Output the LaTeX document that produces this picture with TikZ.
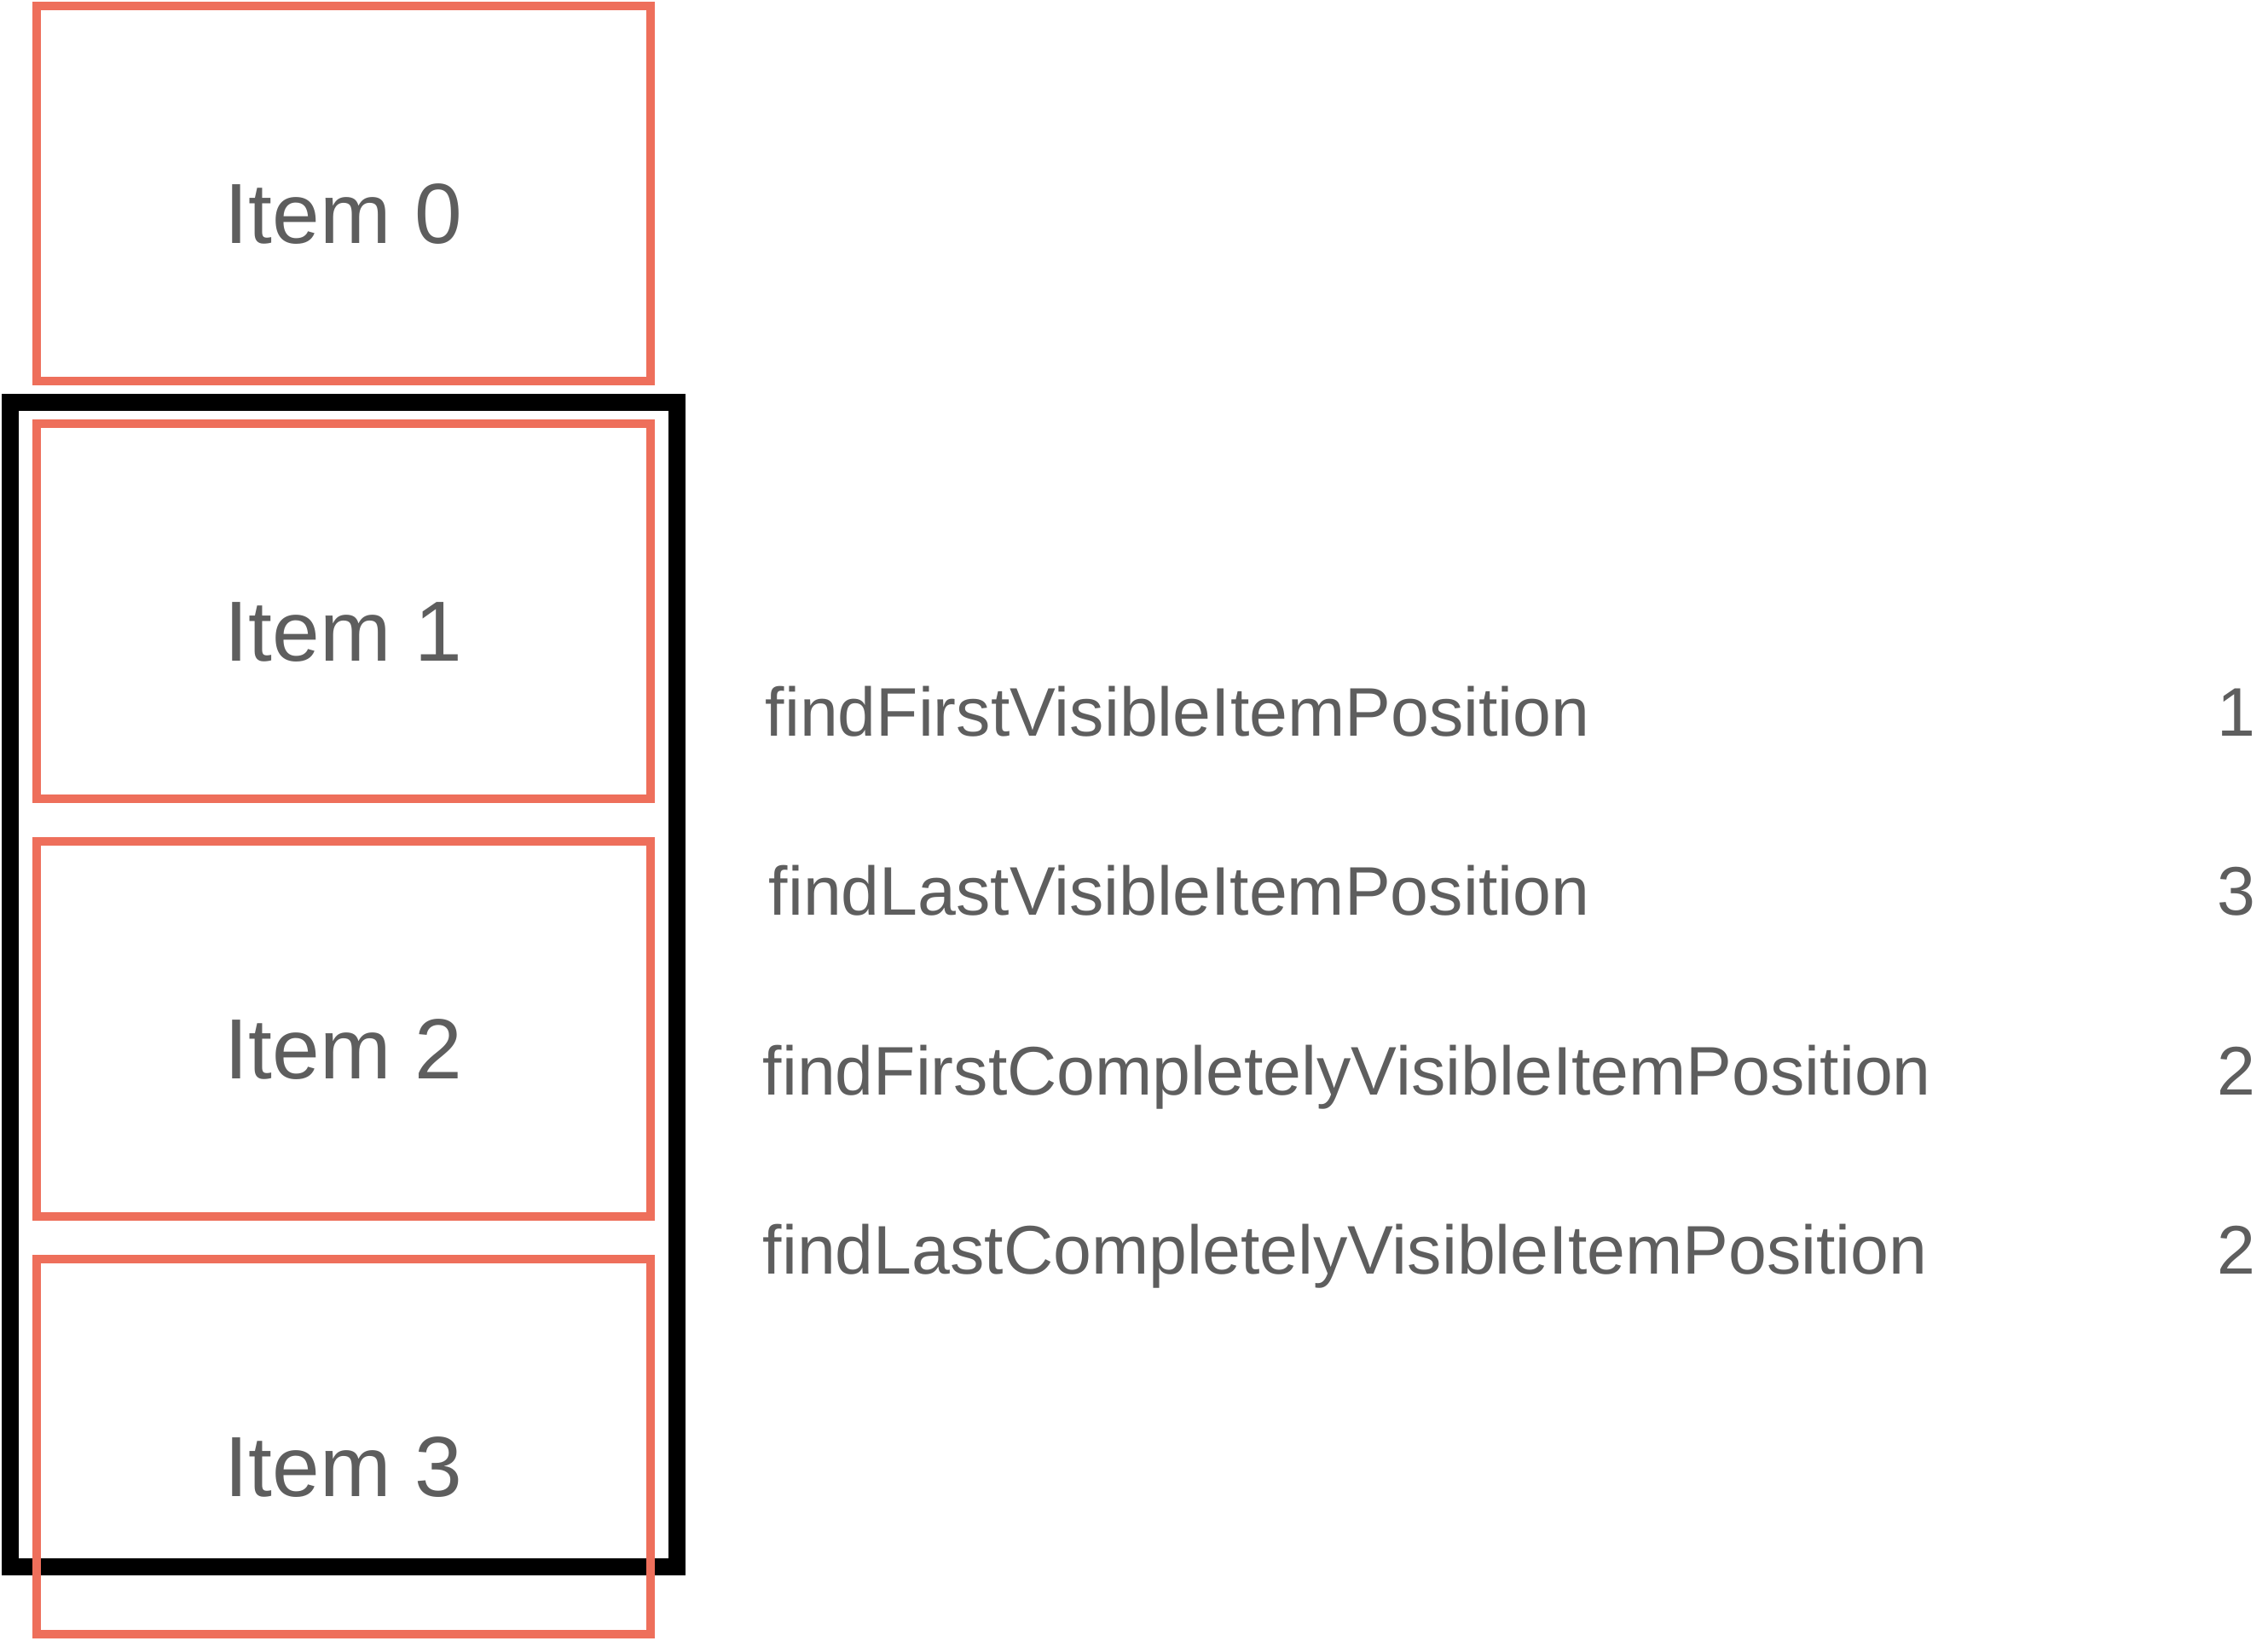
\documentclass[tikz,border=0pt]{standalone}
\usepackage{fontspec}
\setmainfont{Liberation Sans}
\usepackage{xcolor}
\definecolor{coral}{HTML}{EE6F5B}
\definecolor{labelgray}{HTML}{5E5E5E}
\usepackage{tikz}
\usetikzlibrary{positioning}

\begin{document}
\begin{tikzpicture}[
  item/.style={draw=coral, line width=0.1cm, minimum width=7.2cm, minimum height=4.4cm,
               text=labelgray, font=\fontsize{28.5}{30}\selectfont,
               text height=1.16cm, text depth=0pt, inner sep=0pt},
  viewport/.style={draw=black, line width=0.2cm, minimum width=7.82cm, minimum height=13.66cm,
                   inner sep=0pt},
  fn/.style={text=labelgray, font=\fontsize{22.95}{24}\selectfont, inner sep=0pt, anchor=base west},
  val/.style={text=labelgray, font=\fontsize{22.95}{24}\selectfont, inner sep=0pt, anchor=base east}
]
  \useasboundingbox (0,0) rectangle (26.6,-19.24);

  % visible window of the list
  \node[viewport] (vp) at (4.03,-11.55) {};

  \node[item] (i0) at (4.03,-2.27)  {Item 0};
  \node[item] (i1) at (4.03,-7.17)  {Item 1};
  \node[item] (i2) at (4.03,-12.07) {Item 2};
  \node[item] (i3) at (4.03,-16.97) {Item 3};

  \node[fn] (f1) at (8.97,-8.63)  {findFirstVisibleItemPosition};
  \node[fn] (f2) at (9.01,-10.73) {findLastVisibleItemPosition};
  \node[fn] (f3) at (8.94,-12.84) {findFirstCompletelyVisibleItemPosition};
  \node[fn] (f4) at (8.94,-14.94) {findLastCompletelyVisibleItemPosition};

  \node[val] (v1) at (26.46,-8.63)  {1};
  \node[val] (v2) at (26.46,-10.73) {3};
  \node[val] (v3) at (26.46,-12.84) {2};
  \node[val] (v4) at (26.46,-14.94) {2};
\end{tikzpicture}
\end{document}
